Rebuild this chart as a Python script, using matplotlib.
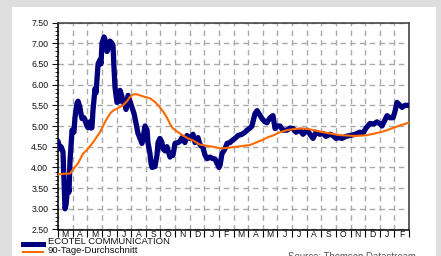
import numpy as np
import matplotlib
matplotlib.use("Agg")
import matplotlib.pyplot as plt
from matplotlib.patches import Rectangle

plt.rcParams['font.family'] = ['Liberation Sans', 'DejaVu Sans']
plt.rcParams['lines.scale_dashes'] = False

# month letters, Mar .. Feb over two years
months = ['M', 'A', 'M', 'J', 'J', 'A', 'S', 'O', 'N', 'D', 'J', 'F',
          'M', 'A', 'M', 'J', 'J', 'A', 'S', 'O', 'N', 'D', 'J', 'F']

# ECOTEL price (x in months since start)
price_t = [0.00, 0.14, 0.21, 0.34, 0.48, 0.55, 0.68, 0.75, 0.82, 0.96, 1.09, 1.16,
           1.30, 1.37, 1.50, 1.57, 1.64, 1.78, 1.85, 1.98, 2.05, 2.19, 2.26, 2.32,
           2.39, 2.53, 2.60, 2.74, 2.87, 2.94, 3.01, 3.15, 3.21, 3.35, 3.42, 3.56,
           3.69, 3.76, 3.83, 3.90, 4.03, 4.17, 4.24, 4.38, 4.44, 4.58, 4.65, 4.79,
           4.92, 5.06, 5.20, 5.26, 5.40, 5.47, 5.61, 5.74, 5.81, 5.95, 6.09, 6.15,
           6.29, 6.36, 6.43, 6.63, 6.77, 6.84, 6.97, 7.11, 7.18, 7.32, 7.45, 7.66,
           7.79, 7.86, 8.00, 8.21, 8.34, 8.48, 8.68, 8.82, 9.03, 9.23, 9.37, 9.57,
           9.71, 9.91, 10.05, 10.19, 10.39, 10.53, 10.74, 10.87, 11.01, 11.08, 11.21,
           11.42, 11.56, 11.76, 11.90, 12.10, 12.31, 12.58, 12.79, 12.92, 13.13,
           13.26, 13.40, 13.47, 13.61, 13.74, 13.95, 14.15, 14.29, 14.50, 14.70,
           14.84, 14.97, 15.18, 15.38, 15.66, 15.86, 16.07, 16.27, 16.55, 16.75,
           17.03, 17.23, 17.44, 17.64, 17.91, 18.12, 18.32, 18.60, 18.80, 19.01,
           19.21, 19.42, 19.69, 19.97, 20.31, 20.65, 20.85, 21.06, 21.33, 21.61,
           21.81, 22.02, 22.15, 22.36, 22.50, 22.70, 22.91, 23.04, 23.18, 23.38,
           23.52, 23.73, 23.93]
price_v = [4.63, 4.45, 4.50, 4.38, 3.00, 3.10, 3.60, 3.40, 4.15, 4.90, 4.85, 5.20,
           5.55, 5.60, 5.45, 5.30, 5.18, 5.20, 5.13, 5.00, 4.96, 5.10, 4.95, 4.96,
           5.37, 5.90, 5.80, 6.50, 6.60, 6.50, 7.00, 7.15, 7.10, 6.80, 6.85, 7.05,
           7.00, 6.95, 6.40, 5.93, 5.57, 5.60, 5.86, 5.70, 5.57, 5.55, 5.40, 5.74,
           5.60, 5.45, 5.30, 5.20, 4.95, 4.82, 4.70, 4.58, 4.70, 5.00, 4.90, 4.60,
           4.33, 4.10, 4.00, 4.02, 4.30, 4.60, 4.70, 4.60, 4.45, 4.40, 4.50, 4.25,
           4.30, 4.29, 4.58, 4.60, 4.63, 4.72, 4.60, 4.77, 4.70, 4.80, 4.60, 4.72,
           4.55, 4.48, 4.30, 4.21, 4.25, 4.22, 4.20, 4.10, 4.00, 4.05, 4.33,
           4.45, 4.58, 4.60, 4.65, 4.70, 4.77, 4.80, 4.85, 4.90, 4.95,
           5.00, 5.20, 5.30, 5.37, 5.30, 5.18, 5.10, 5.08, 5.20, 5.25,
           4.94, 5.00, 5.00, 4.90, 4.90, 4.95, 4.94, 4.85, 4.90, 4.80,
           4.90, 4.80, 4.70, 4.85, 4.80, 4.82, 4.75, 4.80, 4.77, 4.70,
           4.72, 4.70, 4.75, 4.77, 4.80, 4.85, 4.82, 4.95, 5.06, 5.05,
           5.10, 5.05, 5.00, 5.15, 5.25, 5.20, 5.20, 5.35, 5.57, 5.50,
           5.45, 5.50, 5.50]

# 90 day moving average
ma_t = [0.00, 0.48, 0.82, 1.03, 1.37, 1.71, 2.05, 2.39, 2.67, 2.87, 3.15, 3.35,
        3.56, 3.76, 4.10, 4.44, 4.72, 4.92, 5.13, 5.33, 5.61, 5.95, 6.29, 6.63,
        6.97, 7.25, 7.45, 7.66, 7.86, 8.21, 8.55, 8.89, 9.23, 9.71, 10.19, 10.60,
        10.94, 11.28, 11.76, 12.24, 12.65, 13.13, 13.54, 13.95, 14.36, 14.70,
        15.18, 15.66, 16.21, 16.75, 17.23, 17.71, 18.12, 18.60, 19.28, 19.76,
        20.31, 20.79, 21.13, 21.68, 22.15, 22.50, 23.04, 23.52, 24.00]
ma_v = [3.83, 3.85, 3.85, 3.95, 4.10, 4.33, 4.45, 4.60, 4.75, 4.85, 5.05, 5.18,
        5.30, 5.37, 5.43, 5.50, 5.60, 5.70, 5.76, 5.77, 5.74, 5.70, 5.67, 5.58,
        5.45, 5.32, 5.20, 5.05, 4.94, 4.85, 4.77, 4.70, 4.65, 4.55, 4.52, 4.50,
        4.47, 4.46, 4.48, 4.50, 4.52, 4.54, 4.60, 4.66, 4.73, 4.77,
        4.85, 4.90, 4.93, 4.94, 4.92, 4.88, 4.85, 4.82, 4.78, 4.77,
        4.76, 4.77, 4.78, 4.82, 4.86, 4.90, 4.97, 5.03, 5.08]

fig = plt.figure(figsize=(4.41, 2.56), dpi=100)
fig.patch.set_facecolor('#dedede')
fig.patches.append(Rectangle((12 / 441, 0), 424 / 441, 1 - 7 / 256,
                             transform=fig.transFigure, facecolor='white',
                             edgecolor='none', zorder=-10))

ax = fig.add_axes([58 / 441, 1 - 229.5 / 256, 351 / 441, 207 / 256])
ax.set_facecolor('none')

ax.plot(price_t, price_v, color='#00007f', lw=3.8, solid_joinstyle='round',
        solid_capstyle='round', zorder=3)
ax.plot(ma_t, ma_v, color='#ff6a00', lw=1.5, zorder=4)

ax.set_xlim(0, 24)
ax.set_ylim(2.5, 7.5)

ax.set_yticks(np.arange(2.5, 7.51, 0.5))
ax.set_yticklabels(['%.2f' % v for v in np.arange(2.5, 7.51, 0.5)])
ax.set_yticks(np.arange(2.5, 7.51, 0.1), minor=True)
ax.set_xticks(np.arange(0, 25, 1))
ax.set_xticklabels([])
ax.set_xticks(np.arange(0.5, 24, 1), minor=True)
ax.set_xticklabels(months, minor=True)

ax.tick_params(axis='y', which='major', length=4, width=0.8, labelsize=6.3,
               pad=3, colors='#111111')
ax.tick_params(axis='y', which='minor', length=2, width=0.6)
ax.tick_params(axis='x', which='major', length=5, width=0.8)
ax.tick_params(axis='x', which='minor', length=0, labelsize=6.2, pad=0.3,
               colors='#111111')

ax.grid(True, which='major', color='#aaaaaa', lw=1.0, linestyle=(0, (4, 3)))
ax.set_axisbelow(True)

for side in ['left', 'bottom']:
    ax.spines[side].set_color('black')
    ax.spines[side].set_linewidth(1.1)
for side in ['top', 'right']:
    ax.spines[side].set_color('#444444')
    ax.spines[side].set_linewidth(1.2)

# legend below the chart
fig.add_artist(plt.Line2D([23 / 441, 43 / 441], [1 - 244 / 256, 1 - 244 / 256],
                          color='#00007f', lw=3.6, transform=fig.transFigure))
fig.add_artist(plt.Line2D([23 / 441, 43 / 441], [1 - 251.5 / 256, 1 - 251.5 / 256],
                          color='#ff6a00', lw=1.5, transform=fig.transFigure))
fig.text(48 / 441, 1 - 242 / 256, 'ECOTEL COMMUNICATION', fontsize=6.8,
         va='center', color='#111111')
fig.text(48 / 441, 1 - 250.5 / 256, '90-Tage-Durchschnitt', fontsize=6.8,
         va='center', color='#111111')
fig.text(288 / 441, 1 - 252.5 / 256, 'Source: Thomson Datastream', fontsize=6.9,
         va='top', color='#555555')

fig.savefig('out.png', dpi=100, facecolor=fig.get_facecolor())
